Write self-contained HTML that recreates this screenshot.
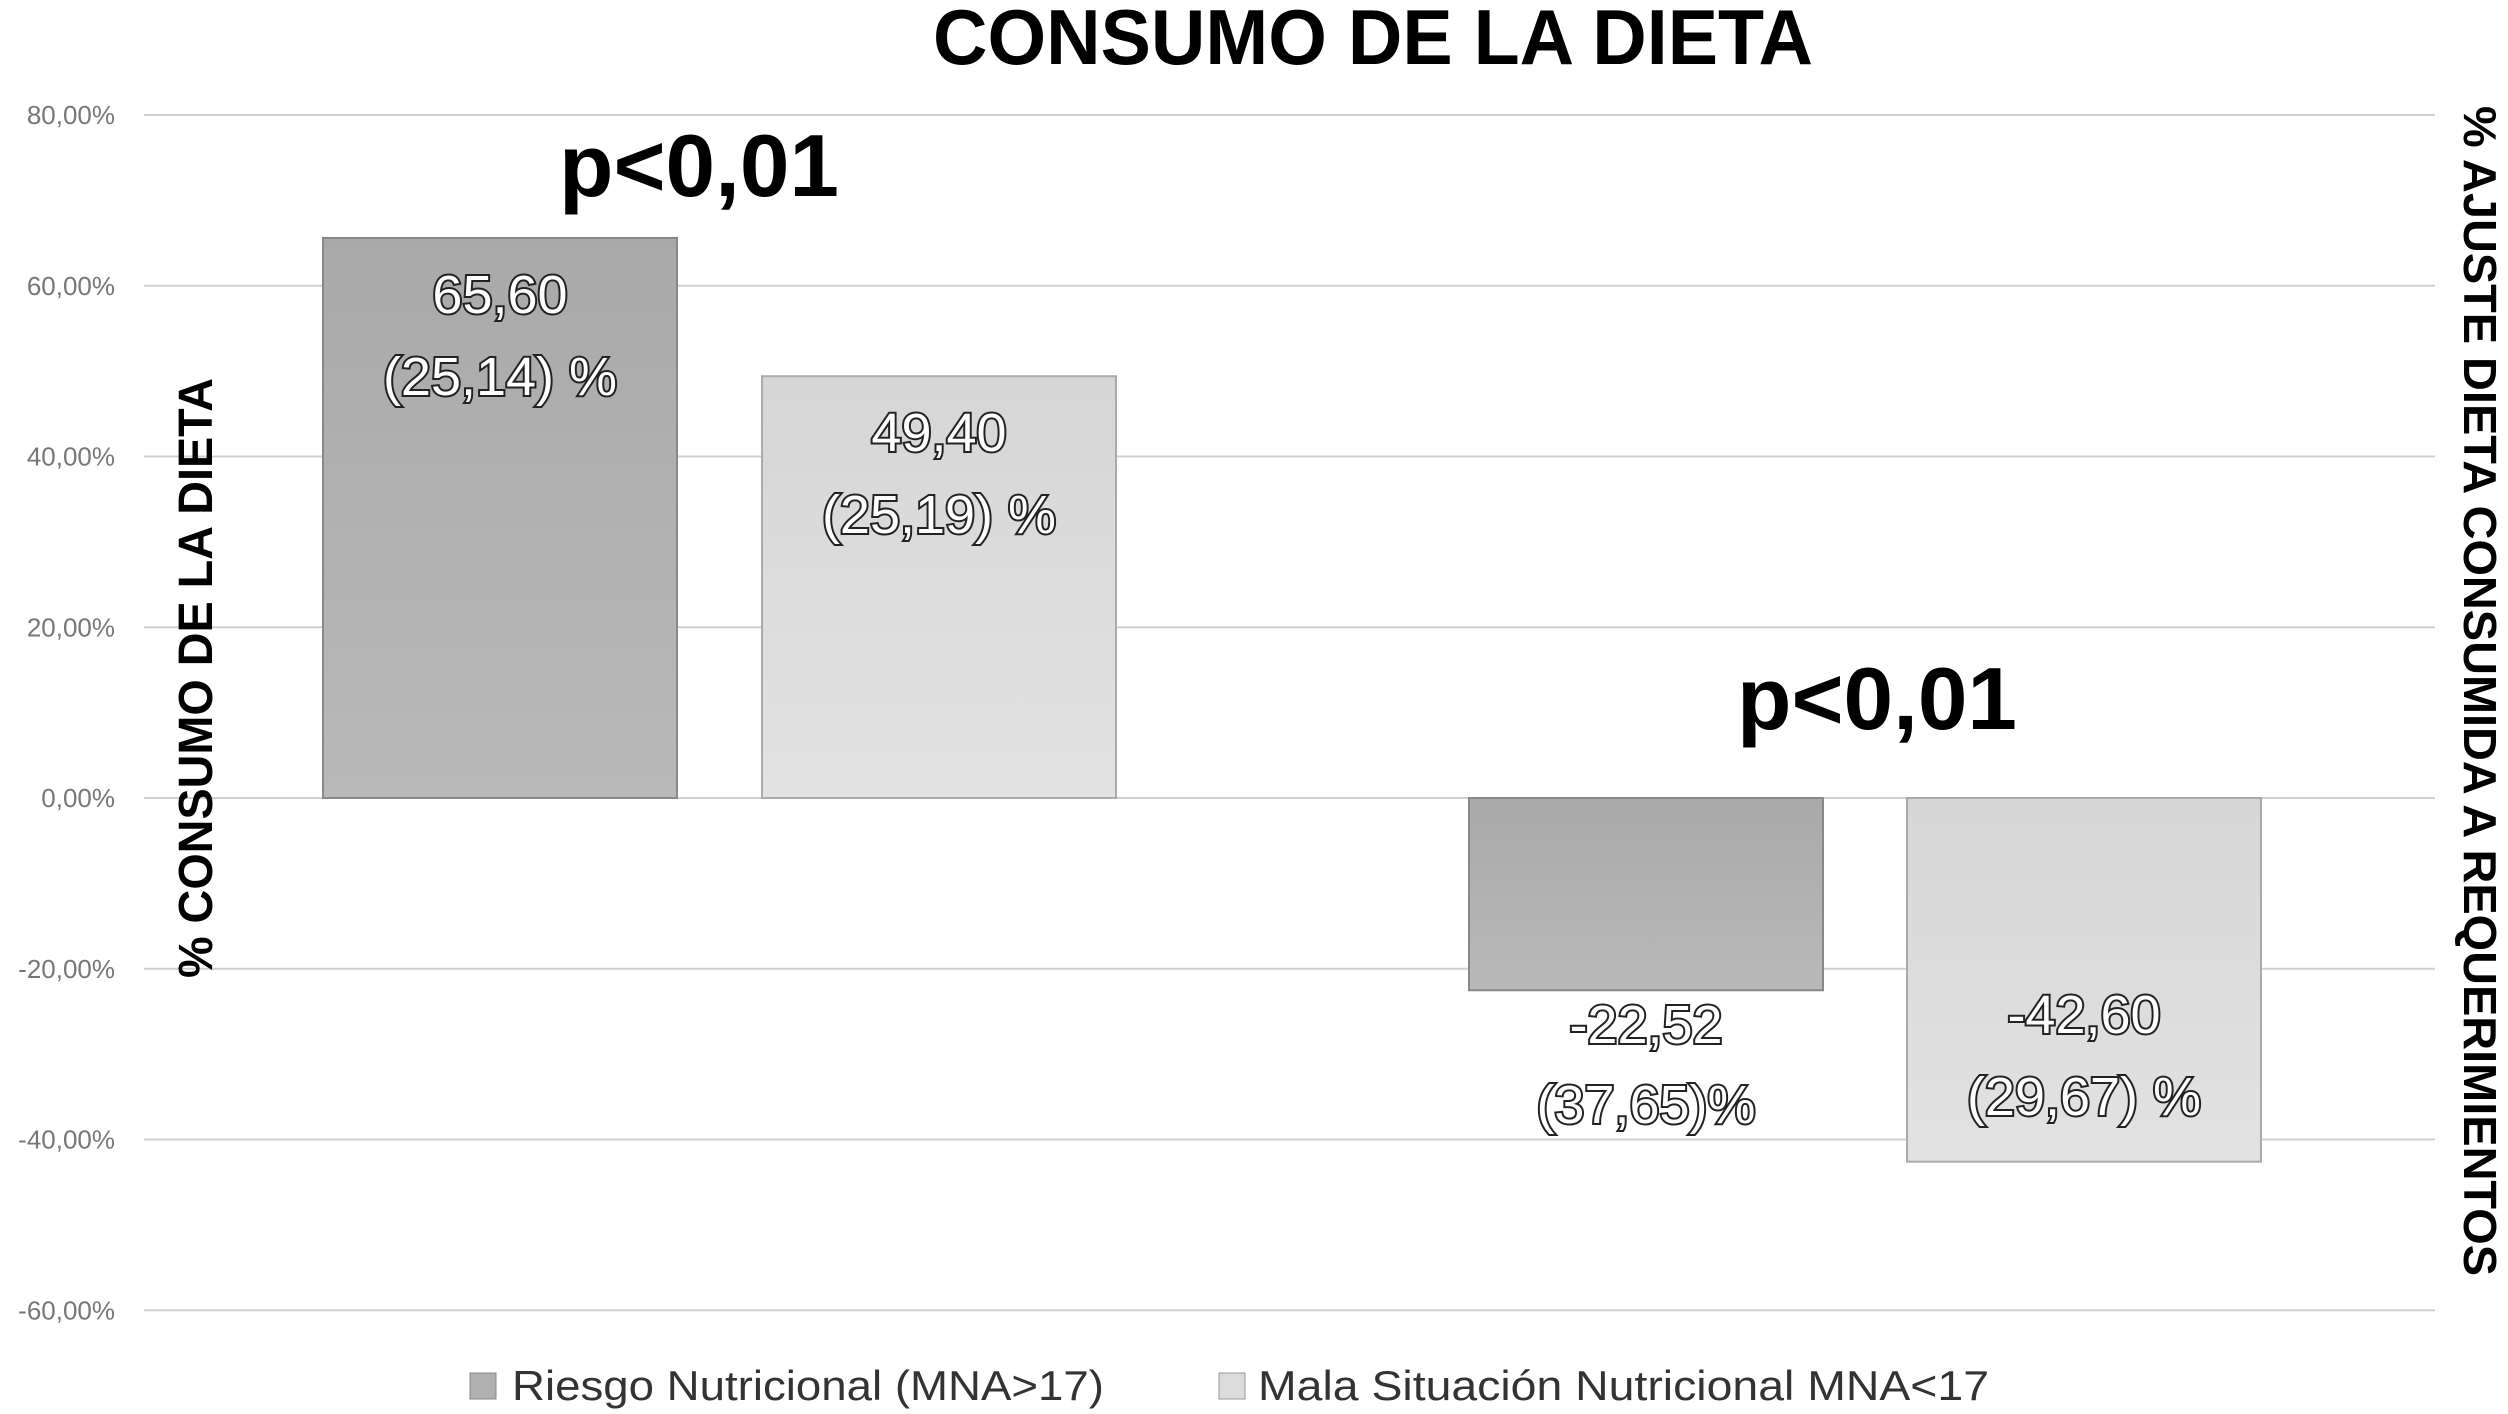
<!DOCTYPE html>
<html><head><meta charset="utf-8"><style>
html,body{margin:0;padding:0;background:#fff;}
svg{display:block;font-family:"Liberation Sans",sans-serif;}
.lbl{font-size:54px;fill:#fff;stroke:#222;stroke-width:4px;paint-order:stroke;text-anchor:middle;}
</style></head><body>
<svg id="chart" width="2508" height="1414" viewBox="0 0 2508 1414">
<defs>
<linearGradient id="gd" x1="0" y1="0" x2="0" y2="1"><stop offset="0" stop-color="#a9a9a9"/><stop offset="1" stop-color="#b9b9b9"/></linearGradient>
<linearGradient id="gl" x1="0" y1="0" x2="0" y2="1"><stop offset="0" stop-color="#d6d6d6"/><stop offset="1" stop-color="#e2e2e2"/></linearGradient>
</defs>
<text x="1373" y="64" font-size="78" font-weight="bold" text-anchor="middle" textLength="880" lengthAdjust="spacingAndGlyphs">CONSUMO DE LA DIETA</text>
<g id="grid"></g>
<g id="bars"></g>
<text transform="translate(212,678) rotate(-90)" font-size="48" font-weight="bold" text-anchor="middle" textLength="600" lengthAdjust="spacingAndGlyphs">% CONSUMO DE LA DIETA</text>
<text transform="translate(2464,691) rotate(90)" font-size="46" font-weight="bold" text-anchor="middle" textLength="1170" lengthAdjust="spacingAndGlyphs">% AJUSTE DIETA CONSUMIDA A REQUERIMIENTOS</text>
<text x="699" y="196" font-size="88" font-weight="bold" text-anchor="middle" textLength="280" lengthAdjust="spacingAndGlyphs">p&lt;0,01</text>
<text x="1877" y="729" font-size="88" font-weight="bold" text-anchor="middle" textLength="280" lengthAdjust="spacingAndGlyphs">p&lt;0,01</text>
<g>
<rect x="470" y="1373" width="26" height="26" fill="#b0b0b0" stroke="#888"/>
<text x="512" y="1400" font-size="42" fill="#333" textLength="592" lengthAdjust="spacingAndGlyphs">Riesgo Nutricional (MNA&gt;17)</text>
<rect x="1219" y="1373" width="26" height="26" fill="#dcdcdc" stroke="#999"/>
<text x="1258" y="1400" font-size="42" fill="#333" textLength="731" lengthAdjust="spacingAndGlyphs">Mala Situación Nutricional MNA&lt;17</text>
</g>
</svg>
<script>
const ticks=[80,60,40,20,0,-20,-40,-60];
const tickLabels=["80,00%","60,00%","40,00%","20,00%","0,00%","-20,00%","-40,00%","-60,00%"];
const values=[65.60,49.40,-22.52,-42.60];
const labels1=["65,60","49,40","-22,52","-42,60"];
const labels2=["(25,14) %","(25,19) %","(37,65)%","(29,67) %"];
const NS="http://www.w3.org/2000/svg";
const y=v=>798-v*(683/80);
const barX=[323,762,1469,1907], barW=354;
const lblY=[[294,376],[432,514],[1024,1104],[1014,1096]];
const grid=document.getElementById('grid'), bars=document.getElementById('bars');
ticks.forEach((t,i)=>{
 const l=document.createElementNS(NS,'line');
 l.setAttribute('x1',144);l.setAttribute('x2',2435);l.setAttribute('y1',y(t));l.setAttribute('y2',y(t));
 l.setAttribute('stroke','#d0d0d0');l.setAttribute('stroke-width','2');
 
 
 grid.appendChild(l);
 const tx=document.createElementNS(NS,'text');
 tx.setAttribute('x',115);tx.setAttribute('y',y(t)+9);tx.setAttribute('text-anchor','end');
 tx.setAttribute('font-size','26');tx.setAttribute('fill','#777');tx.textContent=tickLabels[i];
 
 
 grid.appendChild(tx);
});
values.forEach((v,i)=>{
 const r=document.createElementNS(NS,'rect');
 const top=Math.min(y(v),y(0)), h=Math.abs(y(v)-y(0));
 r.setAttribute('x',barX[i]);r.setAttribute('y',top);r.setAttribute('width',barW);r.setAttribute('height',h);
 r.setAttribute('fill',i%2==0?'url(#gd)':'url(#gl)');r.setAttribute('stroke',i%2==0?'#888':'#aaa');r.setAttribute('stroke-width','2');
 
 
 bars.appendChild(r);
 [labels1[i],labels2[i]].forEach((s,k)=>{
  const t=document.createElementNS(NS,'text');
  t.setAttribute('x',barX[i]+barW/2);t.setAttribute('y',lblY[i][k]+19);t.setAttribute('class','lbl');
  t.textContent=s;
  
  
  bars.appendChild(t);
 });
});
</script>
</body></html>
